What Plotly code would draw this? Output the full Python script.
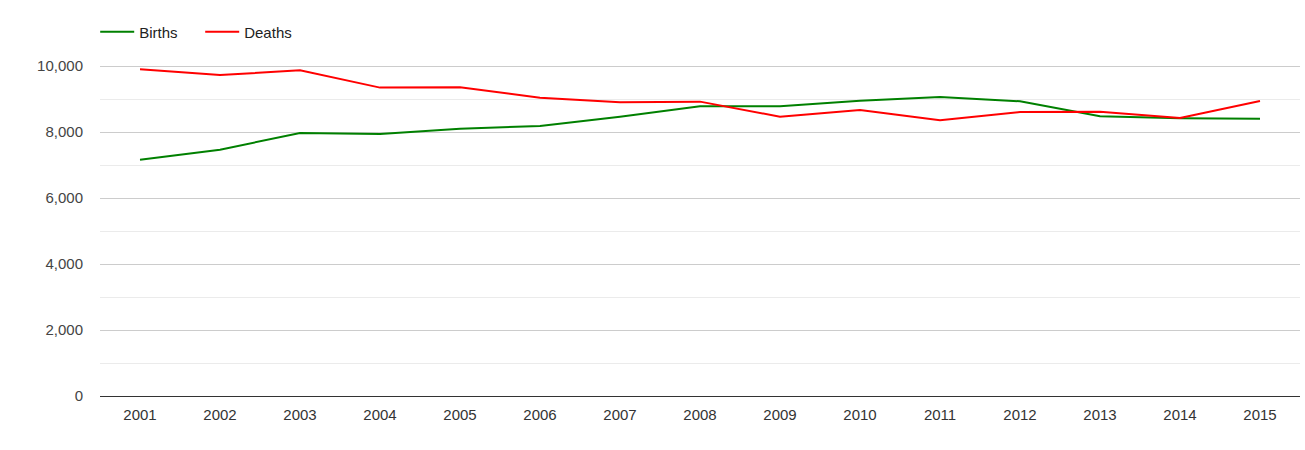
import plotly.graph_objects as go

years = ["2001", "2002", "2003", "2004", "2005", "2006", "2007", "2008",
         "2009", "2010", "2011", "2012", "2013", "2014", "2015"]
births = [7160, 7465, 7970, 7940, 8100, 8180, 8465, 8780, 8780, 8950,
          9060, 8930, 8475, 8415, 8405]
deaths = [9900, 9725, 9870, 9345, 9355, 9040, 8900, 8920, 8465, 8665,
          8355, 8605, 8615, 8425, 8940]

fig = go.Figure()
fig.add_trace(go.Scatter(x=years, y=births, name="Births", mode="lines",
                         line=dict(color="#008000", width=2)))
fig.add_trace(go.Scatter(x=years, y=deaths, name="Deaths", mode="lines",
                         line=dict(color="#ff0000", width=2)))

fig.update_layout(
    width=1305, height=450,
    margin=dict(l=100, r=5, t=33, b=54),
    paper_bgcolor="white", plot_bgcolor="white",
    font=dict(family="Arial, Liberation Sans, sans-serif", size=15, color="#444444"),
    showlegend=True,
    legend=dict(orientation="h", x=-0.004, xanchor="left", y=1.003, yanchor="middle",
                font=dict(size=15, color="#222222"), bgcolor="rgba(0,0,0,0)",
                itemwidth=34, entrywidth=56, entrywidthmode="pixels"),
    xaxis=dict(type="category", range=[-0.5, 14.5], showgrid=False,
               showline=False, ticks="", zeroline=False, ticklabelstandoff=8,
               tickfont=dict(color="#333333")),
    yaxis=dict(range=[0, 11000], tickvals=[0, 2000, 4000, 6000, 8000, 10000],
               tickformat=",d", showgrid=True, gridcolor="#cccccc", gridwidth=1,
               zeroline=True, zerolinecolor="#333333", zerolinewidth=1,
               ticks="", ticklabelstandoff=16, tickfont=dict(color="#444444"),
               minor=dict(tickvals=[1000, 3000, 5000, 7000, 9000], showgrid=True,
                          gridcolor="#ebebeb", gridwidth=1)),
)

fig.write_html("out.html")
